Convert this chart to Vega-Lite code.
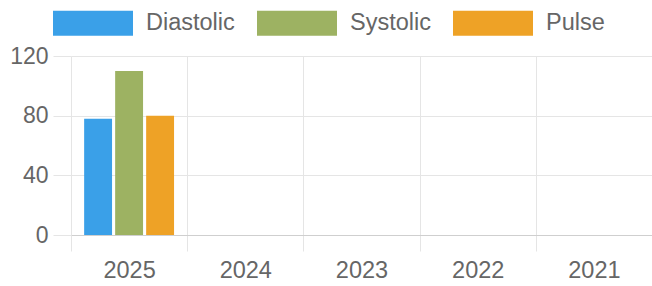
{
  "$schema": "https://vega.github.io/schema/vega-lite/v6.json",
  "width": 581,
  "height": 179,
  "autosize": {"type": "none"},
  "padding": {"left": 71, "top": 56, "right": 0, "bottom": 51},
  "config": {"view": {"stroke": null}, "font": "Liberation Sans"},
  "data": {
    "values": [
      {"year": "2025", "series": "Diastolic", "value": 78},
      {"year": "2025", "series": "Systolic", "value": 110},
      {"year": "2025", "series": "Pulse", "value": 80}
    ]
  },
  "mark": {"type": "bar"},
  "encoding": {
    "x": {
      "field": "year",
      "type": "nominal",
      "sort": null,
      "scale": {"domain": ["2025", "2024", "2023", "2022", "2021"], "paddingInner": 0, "paddingOuter": 0},
      "axis": {
        "title": null,
        "labelAngle": 0,
        "tickBand": "extent",
        "grid": true,
        "gridColor": "#e5e5e5",
        "tickColor": "#e5e5e5",
        "tickSize": 16,
        "domainColor": "#cfcfcf",
        "labelFontSize": 23.5,
        "labelColor": "#666666",
        "labelPadding": 7
      }
    },
    "xOffset": {
      "field": "series",
      "type": "nominal",
      "sort": ["Diastolic", "Systolic", "Pulse"],
      "scale": {"paddingInner": 0.1, "paddingOuter": 0.424}
    },
    "y": {
      "field": "value",
      "type": "quantitative",
      "scale": {"domain": [0, 120]},
      "axis": {
        "title": null,
        "values": [0, 40, 80, 120],
        "domain": false,
        "tickSize": 18,
        "tickColor": "#e5e5e5",
        "gridColor": "#e5e5e5",
        "labelFontSize": 23,
        "labelColor": "#666666",
        "labelPadding": 5
      }
    },
    "color": {
      "field": "series",
      "type": "nominal",
      "sort": ["Diastolic", "Systolic", "Pulse"],
      "scale": {"domain": ["Diastolic", "Systolic", "Pulse"], "range": ["#3aa0e8", "#9db262", "#eea226"]},
      "legend": {
        "orient": "none",
        "legendX": -18,
        "legendY": -73,
        "direction": "horizontal",
        "title": null,
        "symbolType": "M-1,-0.3125H1V0.3125H-1Z",
        "symbolSize": 6400,
        "symbolStrokeWidth": 0,
        "symbolOpacity": 1,
        "labelFontSize": 23.5,
        "labelColor": "#666666",
        "labelOffset": 13,
        "columnPadding": 22
      }
    }
  }
}
